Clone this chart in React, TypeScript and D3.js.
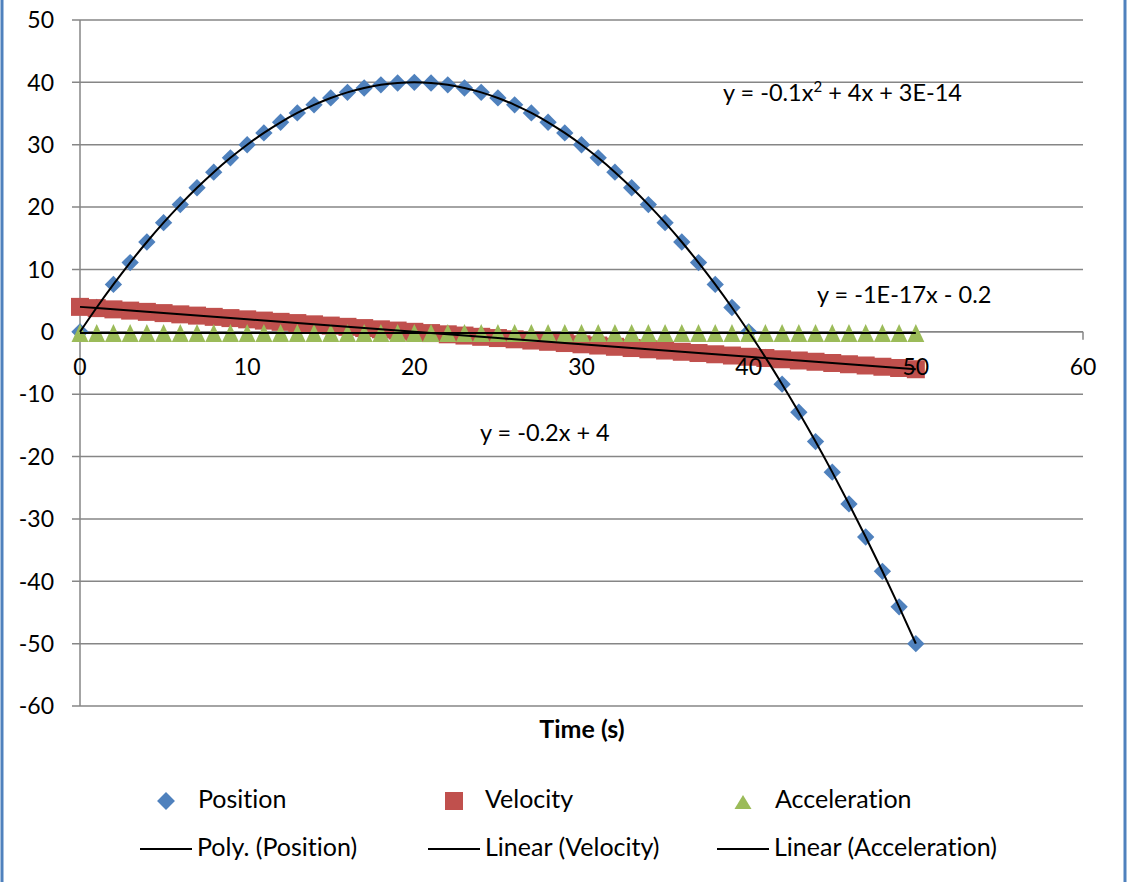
import { useEffect, useRef } from 'react'
import * as d3 from 'd3'

const timeS = [0,1,2,3,4,5,6,7,8,9,10,11,12,13,14,15,16,17,18,19,20,21,22,23,24,25,26,27,28,29,30,31,32,33,34,35,36,37,38,39,40,41,42,43,44,45,46,47,48,49,50]
const position = [0,3.9,7.6,11.1,14.4,17.5,20.4,23.1,25.6,27.9,30,31.9,33.6,35.1,36.4,37.5,38.4,39.1,39.6,39.9,40,39.9,39.6,39.1,38.4,37.5,36.4,35.1,33.6,31.9,30,27.9,25.6,23.1,20.4,17.5,14.4,11.1,7.6,3.9,0,-4.1,-8.4,-12.9,-17.6,-22.5,-27.6,-32.9,-38.4,-44.1,-50]
const velocity = [4,3.8,3.6,3.4,3.2,3,2.8,2.6,2.4,2.2,2,1.8,1.6,1.4,1.2,1,0.8,0.6,0.4,0.2,0,-0.2,-0.4,-0.6,-0.8,-1,-1.2,-1.4,-1.6,-1.8,-2,-2.2,-2.4,-2.6,-2.8,-3,-3.2,-3.4,-3.6,-3.8,-4,-4.2,-4.4,-4.6,-4.8,-5,-5.2,-5.4,-5.6,-5.8,-6]
const acceleration = [-0.2,-0.2,-0.2,-0.2,-0.2,-0.2,-0.2,-0.2,-0.2,-0.2,-0.2,-0.2,-0.2,-0.2,-0.2,-0.2,-0.2,-0.2,-0.2,-0.2,-0.2,-0.2,-0.2,-0.2,-0.2,-0.2,-0.2,-0.2,-0.2,-0.2,-0.2,-0.2,-0.2,-0.2,-0.2,-0.2,-0.2,-0.2,-0.2,-0.2,-0.2,-0.2,-0.2,-0.2,-0.2,-0.2,-0.2,-0.2,-0.2,-0.2,-0.2]
const xTicks = [0,10,20,30,40,50,60]
const yTicks = [50,40,30,20,10,0,-10,-20,-30,-40,-50,-60]

const FONT = 'Lato, "Open Sans", sans-serif'
const BLUE = '#4F81BD', RED = '#C0504D', GREEN = '#9BBB59', GRID = '#868686'

export default function App() {
  const ref = useRef<SVGSVGElement>(null)
  useEffect(() => {
    document.body.style.margin = '0'
    if (!ref.current) return
    const W = 1127, H = 882
    const svg = d3.select(ref.current)
    svg.selectAll('*').remove()
    svg.attr('width', W).attr('height', H).style('font-family', FONT).style('font-variant-ligatures', 'none')
    svg.append('rect').attr('width', W).attr('height', H).attr('fill', '#fff')
    svg.append('line').attr('x1', 2).attr('x2', 2).attr('y1', 0).attr('y2', H).attr('stroke', BLUE).attr('stroke-width', 3)
    svg.append('line').attr('x1', 1125).attr('x2', 1125).attr('y1', 0).attr('y2', H).attr('stroke', BLUE).attr('stroke-width', 3)

    const x = d3.scaleLinear().domain([0, 60]).range([80, 1083])
    const y = d3.scaleLinear().domain([-60, 50]).range([706, 20])

    // horizontal gridlines
    svg.append('g').selectAll('line').data(yTicks).join('line')
      .attr('x1', 72).attr('x2', 1083).attr('y1', d => y(d)).attr('y2', d => y(d))
      .attr('stroke', GRID).attr('stroke-width', 1.5)
    // y axis
    svg.append('line').attr('x1', x(0)).attr('x2', x(0)).attr('y1', y(50)).attr('y2', y(-60)).attr('stroke', GRID).attr('stroke-width', 1.5)
    svg.append('g').selectAll('text').data(yTicks).join('text')
      .attr('x', 54).attr('y', d => y(d)).attr('dy', '0.36em').attr('text-anchor', 'end')
      .attr('font-size', 23).attr('fill', '#000').text(d => d)
    // x axis
    svg.append('line').attr('x1', x(0)).attr('x2', x(60)).attr('y1', y(0)).attr('y2', y(0)).attr('stroke', GRID).attr('stroke-width', 1.5)
    svg.append('g').selectAll('line').data(xTicks).join('line')
      .attr('x1', d => x(d)).attr('x2', d => x(d)).attr('y1', y(0)).attr('y2', y(0) + 8)
      .attr('stroke', GRID).attr('stroke-width', 1.5)

    const pts = (vals: number[]) => timeS.map((t, i) => ({ t, v: vals[i] }))
    const diamond = d3.symbol().type(d3.symbolSquare).size(150)
    svg.append('g').selectAll('path').data(pts(position)).join('path')
      .attr('d', diamond).attr('fill', BLUE)
      .attr('transform', d => `translate(${x(d.t)},${y(d.v)}) rotate(45)`)
    svg.append('g').selectAll('rect').data(pts(velocity)).join('rect')
      .attr('x', d => x(d.t) - 9).attr('y', d => y(d.v) - 9).attr('width', 18).attr('height', 18).attr('fill', RED)
    const tri = (cx: number, cy: number, w: number, h: number) => `M${cx},${cy - h / 2}L${cx + w / 2},${cy + h / 2}L${cx - w / 2},${cy + h / 2}Z`
    svg.append('g').selectAll('path').data(pts(acceleration)).join('path')
      .attr('d', d => tri(x(d.t), y(d.v), 17, 18)).attr('fill', GREEN)

    // trendlines
    const curve = d3.line<{ t: number, v: number }>().x(d => x(d.t)).y(d => y(d.v)).curve(d3.curveNatural)
    svg.append('path').datum(pts(position)).attr('d', curve).attr('fill', 'none').attr('stroke', '#000').attr('stroke-width', 2)
    const lin = d3.line<{ t: number, v: number }>().x(d => x(d.t)).y(d => y(d.v))
    svg.append('path').datum(pts(velocity)).attr('d', lin).attr('fill', 'none').attr('stroke', '#000').attr('stroke-width', 2)
    svg.append('path').datum(pts(acceleration)).attr('d', lin).attr('fill', 'none').attr('stroke', '#000').attr('stroke-width', 2)

    // x tick labels drawn over the marks
    svg.append('g').selectAll('text').data(xTicks).join('text')
      .attr('x', d => x(d)).attr('y', 375).attr('text-anchor', 'middle')
      .attr('font-size', 23).attr('fill', '#000').text(d => d)

    // equations
    const eq = svg.append('text').attr('x', 723).attr('y', 101).attr('font-size', 23.5)
    eq.append('tspan').text('y = -0.1x')
    eq.append('tspan').attr('font-size', 15).attr('dy', -9).text('2')
    eq.append('tspan').attr('dy', 9).text(' + 4x + 3E-14')
    svg.append('text').attr('x', 817).attr('y', 303).attr('font-size', 23.5).text('y = -1E-17x - 0.2')
    svg.append('text').attr('x', 480).attr('y', 441).attr('font-size', 23.5).text('y = -0.2x + 4')

    svg.append('text').attr('x', 582).attr('y', 738).attr('text-anchor', 'middle').attr('font-size', 25).attr('font-weight', 'bold').text('Time (s)')

    // legend
    const lg = svg.append('g').attr('font-size', 25)
    lg.append('path').attr('d', d3.symbol().type(d3.symbolSquare).size(160)()).attr('fill', BLUE).attr('transform', 'translate(166,801) rotate(45)')
    lg.append('text').attr('x', 198).attr('y', 808).text('Position')
    lg.append('rect').attr('x', 445).attr('y', 792).attr('width', 18).attr('height', 18).attr('fill', RED)
    lg.append('text').attr('x', 485).attr('y', 808).text('Velocity')
    lg.append('path').attr('d', tri(743, 802, 17, 14)).attr('fill', GREEN)
    lg.append('text').attr('x', 775).attr('y', 808).text('Acceleration')
    const row2 = [[140, 'Poly. (Position)'], [428, 'Linear (Velocity)'], [717, 'Linear (Acceleration)']] as const
    row2.forEach(([x0, label]) => {
      lg.append('line').attr('x1', x0).attr('x2', x0 + 52).attr('y1', 849).attr('y2', 849).attr('stroke', '#000').attr('stroke-width', 2)
      lg.append('text').attr('x', x0 + 57).attr('y', 856).text(label)
    })
  }, [])
  return <svg ref={ref} style={{ display: 'block' }} />
}
